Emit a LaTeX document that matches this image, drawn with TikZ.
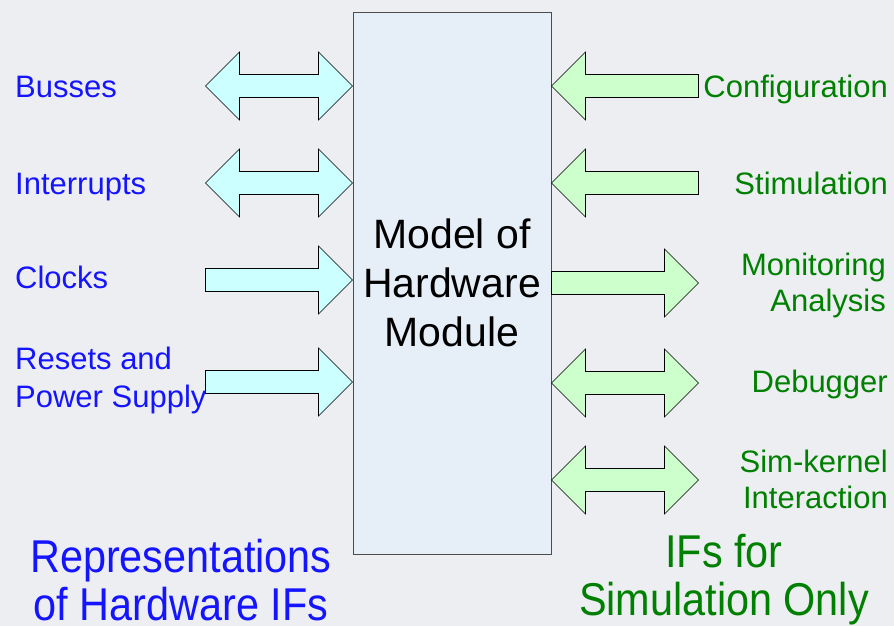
\documentclass[tikz,border=0pt]{standalone}
\usepackage{fontspec}
\setmainfont{Liberation Sans}
\newfontfamily\condfont[FakeStretch=0.9]{Liberation Sans}
\usetikzlibrary{positioning}

\definecolor{hwblue}{RGB}{20,20,255}
\definecolor{simgreen}{RGB}{0,128,0}
\definecolor{hwfill}{RGB}{204,255,255}
\definecolor{simfill}{RGB}{204,255,204}
\definecolor{boxfill}{RGB}{230,238,248}
\definecolor{bgfill}{RGB}{236,238,242}

\tikzset{
  bothway/.pic={\draw[pic actions] (-73.5,0) -- (-39.5,-34) -- (-39.5,-11.5) -- (39.5,-11.5)
      -- (39.5,-34) -- (73.5,0) -- (39.5,34) -- (39.5,11.5) -- (-39.5,11.5) -- (-39.5,34) -- cycle;},
  rightway/.pic={\draw[pic actions] (-73.5,-11.5) -- (39.5,-11.5) -- (39.5,-34) -- (73.5,0)
      -- (39.5,34) -- (39.5,11.5) -- (-73.5,11.5) -- cycle;},
  leftway/.pic={\draw[pic actions] (73.5,-11.5) -- (-39.5,-11.5) -- (-39.5,-34) -- (-73.5,0)
      -- (-39.5,34) -- (-39.5,11.5) -- (73.5,11.5) -- cycle;}
}

\begin{document}
\begin{tikzpicture}[x=1pt,y=-1pt,
    hwlabel/.style={text=hwblue,font=\fontsize{31}{38}\selectfont,inner sep=0pt,anchor=base west,align=left},
    simlabel/.style={text=simgreen,font=\fontsize{31}{36}\selectfont,inner sep=0pt,anchor=base east,align=right},
    hwarrow/.style={draw=black,fill=hwfill,line width=0.6pt},
    simarrow/.style={draw=black,fill=simfill,line width=0.6pt},
    sidetitle/.style={font=\condfont\fontsize{46}{48}\selectfont,inner sep=0pt,align=center}]

  \fill[bgfill] (0,0) rectangle (894,626); % background

  \node[draw=black!70,fill=boxfill,minimum width=198pt,minimum height=542pt,inner sep=0pt,
    font=\fontsize{41}{49}\selectfont,align=center] (model) at (452,283) {Model of\\Hardware\\Module};

  % hardware side
  \pic[hwarrow] (busarr) at (279,86) {bothway};
  \pic[hwarrow] (irqarr) at (279,183) {bothway};
  \pic[hwarrow] (clkarr) at (279,280) {rightway};
  \pic[hwarrow] (rstarr) at (279,382) {rightway};

  % simulation side
  \pic[simarrow] (cfgarr) at (625,86) {leftway};
  \pic[simarrow] (stimarr) at (625,183) {leftway};
  \pic[simarrow] (monarr) at (625,283) {rightway};
  \pic[simarrow] (dbgarr) at (625,383) {bothway};
  \pic[simarrow] (simkarr) at (625,480) {bothway};

  \node[hwlabel] (busses) at (15,97) {Busses};
  \node[hwlabel] (irq) at (15,194) {Interrupts};
  \node[hwlabel] (clocks) at (15,288) {Clocks};
  \node[hwlabel] (resets) at (15,407) {Resets and\\Power Supply}; % base = last line

  \node[simlabel] (config) at (888,97) {Configuration};
  \node[simlabel] (stim) at (888,194) {Stimulation};
  \node[simlabel] (monitor) at (886,311) {Monitoring\\Analysis};
  \node[simlabel] (debug) at (888,392) {Debugger};
  \node[simlabel] (simkernel) at (888,508) {Sim-kernel\\Interaction};

  \node[sidetitle,text=hwblue] (hwtitle) at (181,580) {Representations\\of Hardware IFs};
  \node[sidetitle,text=simgreen] (simtitle) at (724,580) {IFs for\\Simulation Only};

\end{tikzpicture}
\end{document}
